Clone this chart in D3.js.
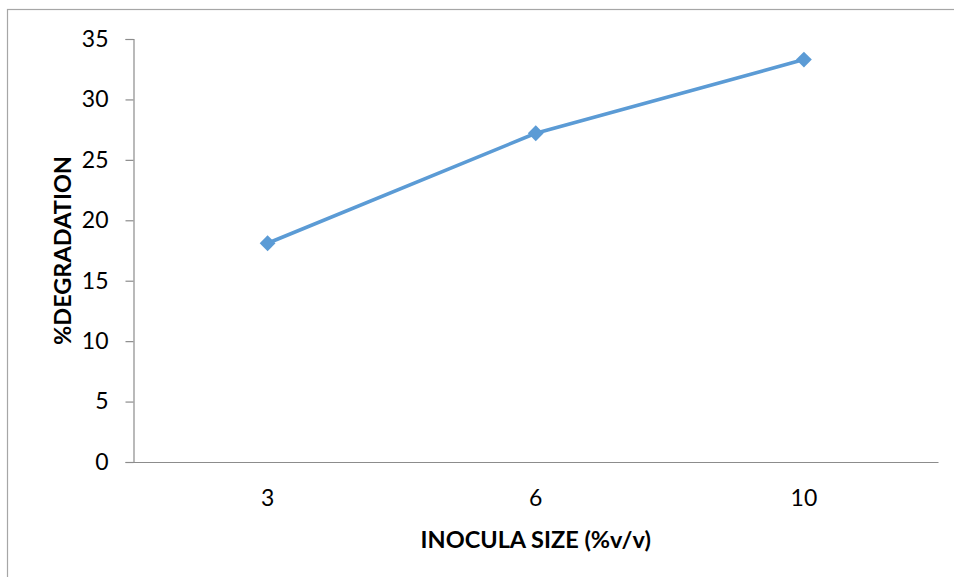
<!DOCTYPE html>
<html>
<head>
<meta charset="utf-8">
<script src="https://cdn.jsdelivr.net/npm/d3@7"></script>
<style>
  html, body { margin: 0; padding: 0; background: #fff; }
  svg { display: block; }
</style>
</head>
<body>
<svg id="chart" width="954" height="577"></svg>
<script>
// Inoculum size (% v/v) against percentage degradation
const categories = ["3", "6", "10"];
const degradation = [18.1, 27.2, 33.3];
const yTicks = [0, 5, 10, 15, 20, 25, 30, 35];
const xTitle = "INOCULA SIZE (%v/v)";
const yTitle = "%DEGRADATION";

const W = 954, H = 577;
const margin = { left: 133.5, right: 16, top: 39, bottom: 115 };
const font = "Lato, 'Open Sans', sans-serif";
const axisColor = "#8c8c8c";
const lineColor = "#5b9bd5";

const svg = d3.select("#chart");

// chart area frame
svg.append("rect")
  .attr("x", 7.5).attr("y", 9.5)
  .attr("width", W + 20).attr("height", H + 20)
  .attr("fill", "#fff")
  .attr("stroke", "#a6a6a6").attr("stroke-width", 1.2);

const x = d3.scaleBand()
  .domain(categories)
  .range([margin.left, W - margin.right]);

const y = d3.scaleLinear()
  .domain([0, 35])
  .range([H - margin.bottom, margin.top]);

// y axis
const yAxis = svg.append("g")
  .attr("transform", `translate(${margin.left},0)`)
  .call(d3.axisLeft(y).tickValues(yTicks).tickSize(8).tickPadding(17));
yAxis.select(".domain").attr("stroke", axisColor).attr("stroke-width", 1.2);
yAxis.selectAll(".tick line").attr("stroke", axisColor).attr("stroke-width", 1.2);
yAxis.selectAll(".tick text")
  .attr("fill", "#000")
  .style("font-family", font).style("font-size", "23px");

// x axis
const xAxis = svg.append("g")
  .attr("transform", `translate(0,${y(0)})`)
  .call(d3.axisBottom(x).tickSize(0).tickPadding(28));
xAxis.select(".domain").attr("stroke", axisColor).attr("stroke-width", 1.2);
xAxis.selectAll(".tick text")
  .attr("fill", "#000")
  .style("font-family", font).style("font-size", "23px");

// series line
const cx = c => x(c) + x.bandwidth() / 2;
const pts = categories.map((c, i) => ({ c, v: degradation[i] }));

svg.append("path")
  .datum(pts)
  .attr("fill", "none")
  .attr("stroke", lineColor)
  .attr("stroke-width", 3.6)
  .attr("stroke-linejoin", "round")
  .attr("d", d3.line().x(d => cx(d.c)).y(d => y(d.v)));

// diamond markers
svg.selectAll(".marker")
  .data(pts)
  .join("path")
  .attr("class", "marker")
  .attr("d", d3.symbol(d3.symbolSquare, 125)())
  .attr("transform", d => `translate(${cx(d.c)},${y(d.v)}) rotate(45)`)
  .attr("fill", lineColor);

// axis titles
svg.append("text")
  .attr("x", (margin.left + W - margin.right) / 2)
  .attr("y", 548)
  .attr("text-anchor", "middle")
  .style("font-family", font).style("font-size", "23.5px").style("font-weight", "bold")
  .text(xTitle);

svg.append("text")
  .attr("transform", `translate(71,${(y(0) + y(35)) / 2}) rotate(-90)`)
  .attr("text-anchor", "middle")
  .style("font-family", font).style("font-size", "23.5px").style("font-weight", "bold")
  .text(yTitle);
</script>
</body>
</html>
